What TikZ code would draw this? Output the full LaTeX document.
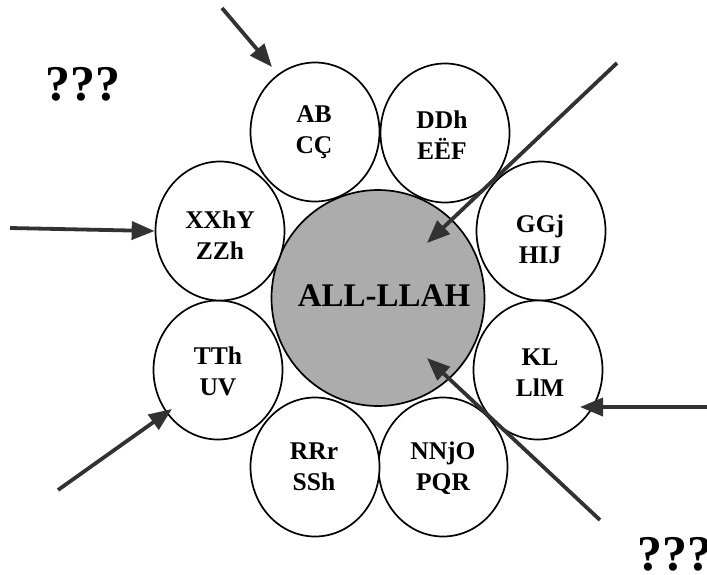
\documentclass[tikz,border=0pt]{standalone}
\usepackage{fontspec}
\setmainfont{Liberation Serif}
\usetikzlibrary{shapes.geometric,arrows.meta}

\definecolor{hubgray}{RGB}{172,172,172}
\definecolor{arrowgray}{RGB}{50,50,50}

\begin{document}
\begin{tikzpicture}[x=1pt,y=-1pt,
  petal/.style={ellipse, draw=black, line width=1.7pt, fill=white,
    minimum width=129pt, minimum height=139pt, inner sep=0pt},
  petaltext/.style={align=center, inner sep=0pt,
    font=\bfseries\fontsize{25.5}{31}\selectfont},
  hub/.style={ellipse, draw=black, line width=1.7pt, fill=hubgray,
    minimum width=213pt, minimum height=216pt, inner sep=0pt},
  hubtext/.style={font=\bfseries\fontsize{33}{38}\selectfont},
  ask/.style={font=\bfseries\fontsize{50}{55}\selectfont, anchor=base west, inner sep=0pt},
  pointer/.style={draw=arrowgray, line width=3.8pt,
    -{Triangle[length=23pt,width=18pt]}}
]
\useasboundingbox (0,0) rectangle (707,574);

% central circle
\node[hub] (hub) at (378,298) {};
\node[hubtext] (hublabel) at (384,296) {ALL-LLAH};

% ring of letter groups
\node[petal] (ab)  at (315,132) {};
\node[petal] (dd)  at (445,133) {};
\node[petal] (gg)  at (541,231) {};
\node[petal] (kl)  at (538,370) {};
\node[petal] (nn)  at (443,467) {};
\node[petal] (rr)  at (315,467) {};
\node[petal] (tt)  at (218,370) {};
\node[petal] (xx)  at (220,231) {};

\node[petaltext] (abl) at (314,132) {AB\\CÇ};
\node[petaltext] (ddl) at (442,135) {DDh\\EËF};
\node[petaltext] (ggl) at (540,239) {GGj\\HIJ};
\node[petaltext] (kll) at (540,373) {KL\\LlM};
\node[petaltext] (nnl) at (443,468) {NNjO\\PQR};
\node[petaltext] (rrl) at (314,467) {RRr\\SSh};
\node[petaltext] (ttl) at (218,371) {TTh\\UV};
\node[petaltext] (xxl) at (220,235) {XXhY\\ZZh};

% question marks
\node[ask] (q1) at (45,100) {???};
\node[ask] (q2) at (637,570) {???};

% arrow ends
\coordinate (t1) at (222,8);
\coordinate (h1) at (272,67);
\coordinate (t2) at (10,228);
\coordinate (t3) at (617,63);
\coordinate (h3) at (427,243);
\coordinate (t4) at (58,490);
\coordinate (h4) at (172,409);
\coordinate (t5) at (710,407);
\coordinate (h5) at (580,407);
\coordinate (t6) at (600,520);
\coordinate (h6) at (427,358);

\draw[pointer] (t1) -- (h1);
\draw[pointer] (t2) -- (xx.west);
\draw[pointer] (t3) -- (h3);
\draw[pointer] (t4) -- (h4);
\draw[pointer] (t5) -- (h5);
\draw[pointer] (t6) -- (h6);
\end{tikzpicture}
\end{document}
